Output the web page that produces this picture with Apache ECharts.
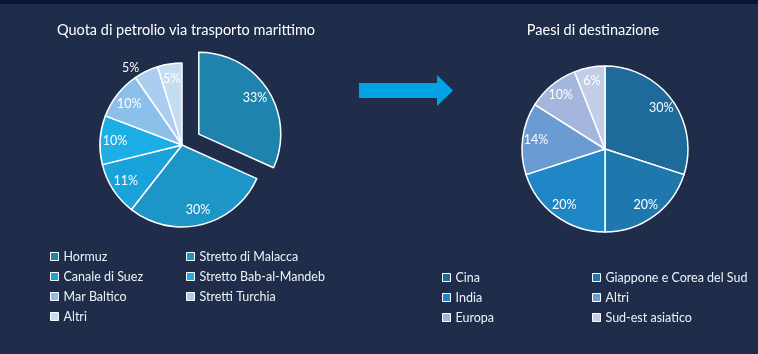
<!DOCTYPE html>
<html>
<head>
<meta charset="utf-8">
<script src="https://cdn.jsdelivr.net/npm/echarts@6/dist/echarts.min.js"></script>
<style>
html, body { margin: 0; padding: 0; background: #1f2d4b; }
#container { width: 758px; height: 354px; }
</style>
</head>
<body>
<div id="container"></div>
<script>
var rotte = ['Hormuz', 'Stretto di Malacca', 'Canale di Suez', 'Stretto Bab-al-Mandeb', 'Mar Baltico', 'Stretti Turchia', 'Altri'];
var quote = [33, 30, 11, 10, 10, 5, 5];
var coloriRotte = ['#1f84ad', '#1d96c7', '#1aa3db', '#1bafe6', '#8cc0ea', '#abcdef', '#c6dcf3'];

var paesi = ['Cina', 'Giappone e Corea del Sud', 'India', 'Altri', 'Europa', 'Sud-est asiatico'];
var quotePaesi = [30, 20, 20, 14, 10, 6];
var coloriPaesi = ['#1e6a9a', '#1f78ad', '#2087c6', '#6a9bd3', '#a4b6dc', '#c3cde6'];

var dom = document.getElementById("container");
var myChart = echarts.init(dom);

function fette(nomi, valori, colori, esploso) {
    return nomi.map(function (n, i) {
        return {
            name: n,
            value: valori[i],
            selected: i === esploso,
            itemStyle: { color: colori[i] },
            select: { itemStyle: { color: colori[i], borderColor: '#fff', borderWidth: 1.5 } }
        };
    });
}

function etichette(nomi, valori, esploso, fuori) {
    return nomi.map(function (n, i) {
        var d = { name: n, value: valori[i], selected: i === esploso };
        if (i === fuori) {
            d.label = { position: 'outside' };
            d.labelLine = { show: false, length: 4, length2: 0 };
        }
        return d;
    });
}

var legendText = { color: '#eef2f8', fontSize: 12.5, fontFamily: 'Lato' };
var legendBase = {
    orient: 'vertical',
    itemWidth: 8,
    itemHeight: 8,
    itemGap: 7,
    icon: 'rect',
    selectedMode: false,
    itemStyle: { borderColor: '#fff', borderWidth: 1 },
    textStyle: legendText
};

option = {
    backgroundColor: '#1f2d4b',
    animation: false,
    title: [
        { text: 'Quota di petrolio via trasporto marittimo', left: 181, top: 18, textAlign: 'center',
          textStyle: { color: '#ffffff', fontSize: 14.5, fontWeight: 'normal', fontFamily: 'Lato' } },
        { text: 'Paesi di destinazione', left: 588, top: 18, textAlign: 'center',
          textStyle: { color: '#ffffff', fontSize: 14.5, fontWeight: 'normal', fontFamily: 'Lato' } }
    ],
    graphic: [
        { type: 'rect', shape: { x: 0, y: 0, width: 758, height: 4 }, style: { fill: '#06173a' } },
        { type: 'polygon', shape: { points: [[359, 83], [437, 83], [437, 75], [453, 90.5], [437, 106], [437, 98], [359, 98]] },
          style: { fill: '#00a3e3' } }
    ],
    legend: [
        Object.assign({}, legendBase, { left: 45, top: 245, data: ['Hormuz', 'Canale di Suez', 'Mar Baltico', 'Altri'] }),
        Object.assign({}, legendBase, { left: 181, top: 245, data: ['Stretto di Malacca', 'Stretto Bab-al-Mandeb', 'Stretti Turchia'] }),
        Object.assign({}, legendBase, { left: 437, top: 266, data: ['Cina', 'India', 'Europa'] }),
        Object.assign({}, legendBase, { left: 587, top: 266, data: ['Giappone e Corea del Sud',
            { name: 'Altri', itemStyle: { color: coloriPaesi[3] } }, 'Sud-est asiatico'] })
    ],
    series: [
        {
            name: 'Rotte', type: 'pie', center: [182, 145], radius: [0, 82],
            selectedMode: 'single', selectedOffset: 20,
            label: { show: false }, labelLine: { show: false },
            itemStyle: { borderColor: '#ffffff', borderWidth: 1.5 },
            emphasis: { disabled: true },
            data: fette(rotte, quote, coloriRotte, 0)
        },
        {
            name: 'Rotte etichette', type: 'pie', center: [182, 145], radius: [46, 82],
            selectedMode: 'single', selectedOffset: 20, silent: true, legendHoverLink: false,
            itemStyle: { color: 'rgba(0,0,0,0)', borderWidth: 0 },
            select: { itemStyle: { color: 'rgba(0,0,0,0)', borderWidth: 0 } },
            label: { show: true, position: 'inside', formatter: '{c}%', color: '#ffffff', fontSize: 12.5, fontFamily: 'Lato' },
            labelLine: { show: false },
            data: etichette(rotte, quote, 0, 5)
        },
        {
            name: 'Paesi', type: 'pie', center: [605, 149], radius: [0, 83],
            label: { show: false }, labelLine: { show: false },
            itemStyle: { borderColor: '#ffffff', borderWidth: 1.5 },
            emphasis: { disabled: true },
            data: fette(paesi, quotePaesi, coloriPaesi, -1)
        },
        {
            name: 'Paesi etichette', type: 'pie', center: [605, 149], radius: [50, 83],
            silent: true, legendHoverLink: false,
            itemStyle: { color: 'rgba(0,0,0,0)', borderWidth: 0 },
            label: { show: true, position: 'inside', formatter: '{c}%', color: '#ffffff', fontSize: 12.5, fontFamily: 'Lato' },
            labelLine: { show: false },
            data: etichette(paesi, quotePaesi, -1, -1)
        }
    ]
};
myChart.setOption(option, true);
</script>
</body>
</html>
